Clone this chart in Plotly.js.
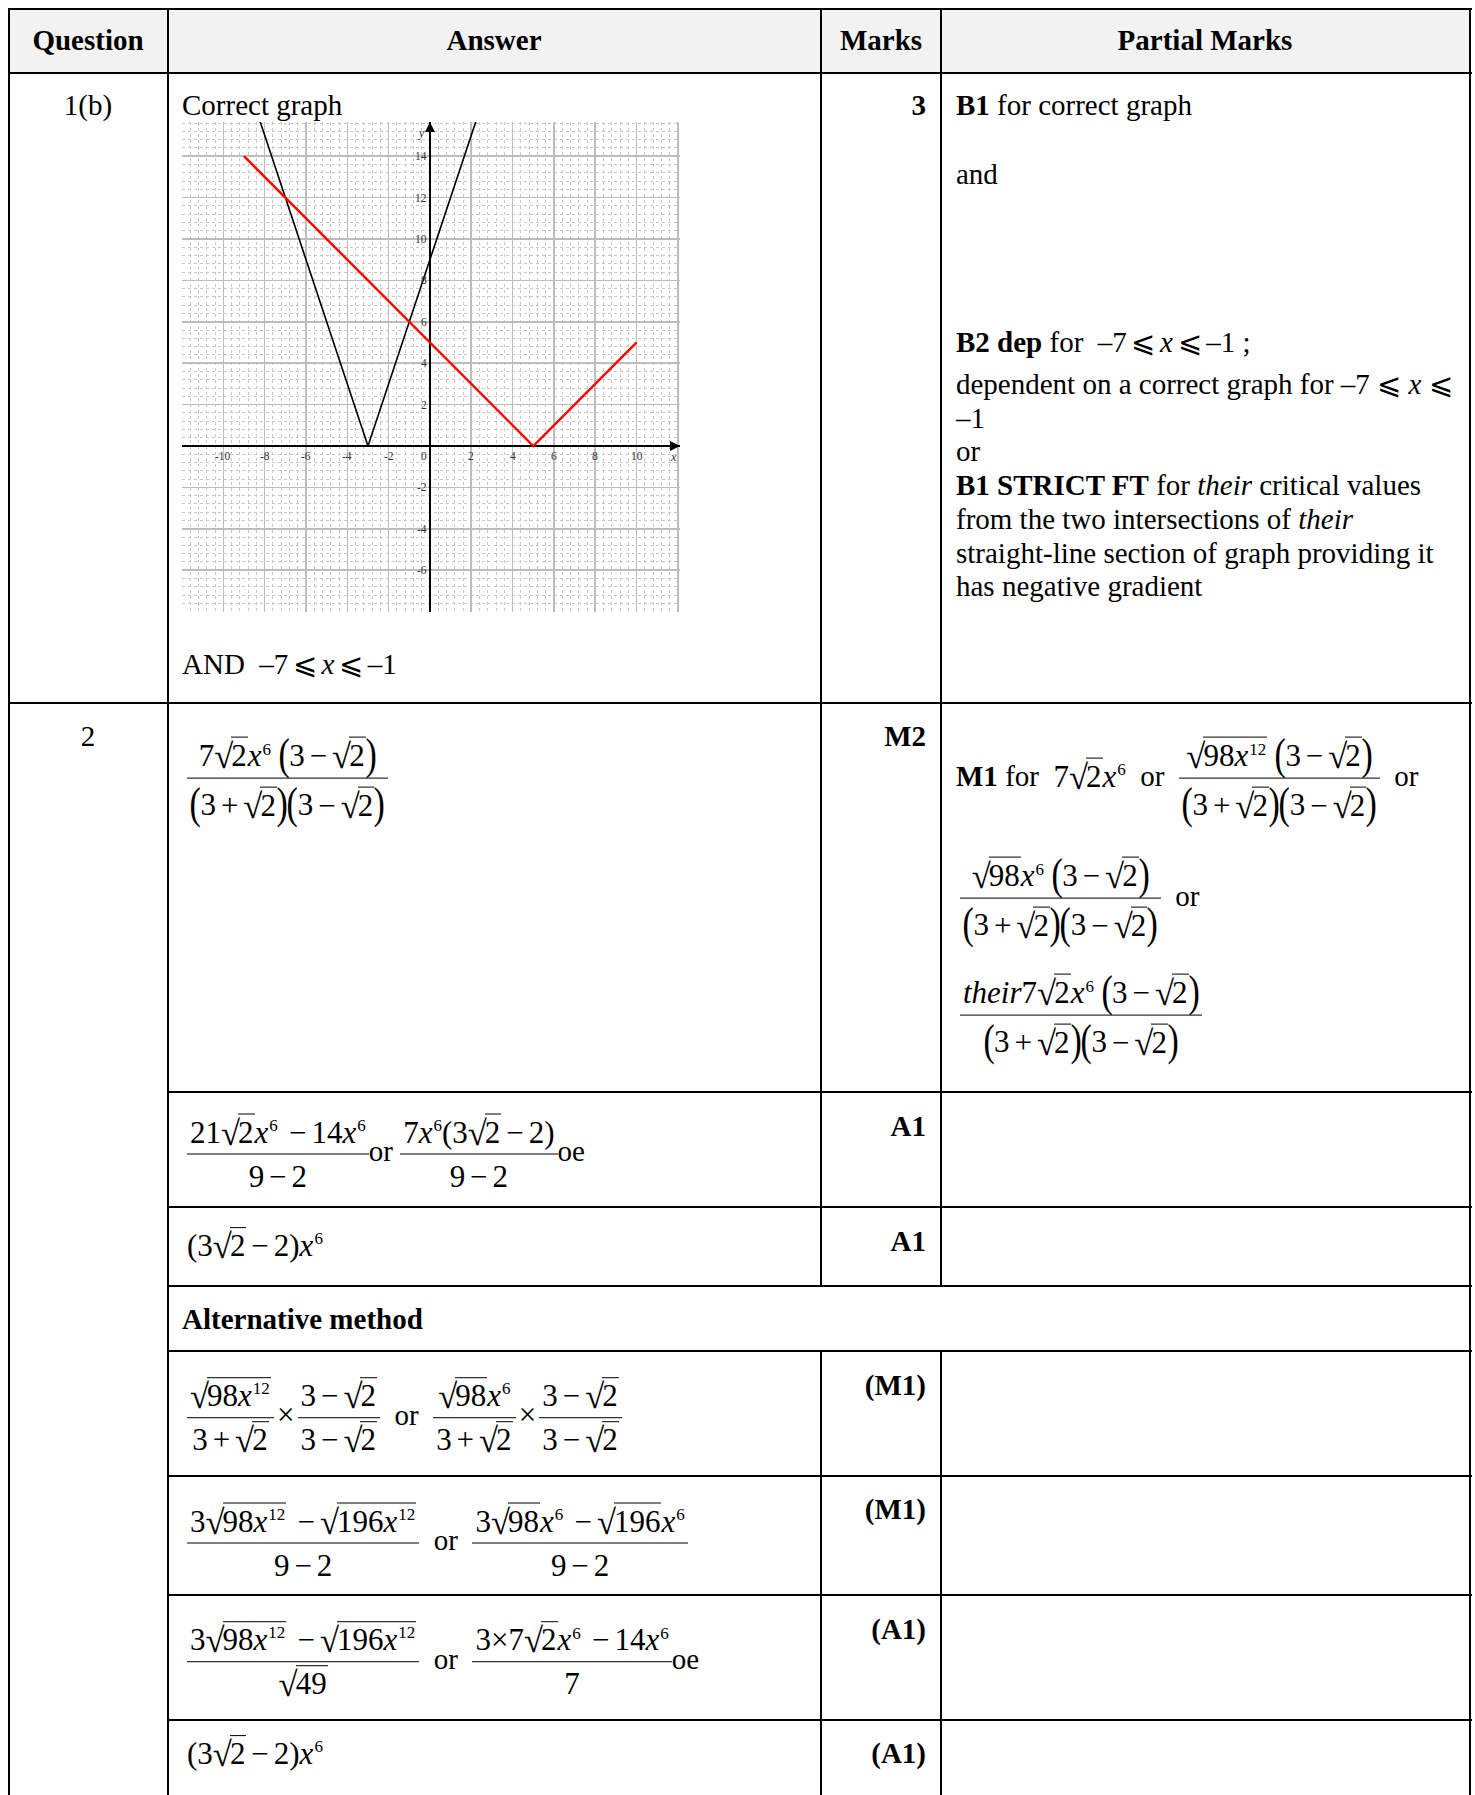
<!DOCTYPE html>
<html>
<head>
<meta charset="utf-8">
<script src="https://cdn.plot.ly/plotly-3.0.1.min.js"></script>
<style>
  html, body { margin: 0; padding: 0; background: #fff; }
  #page { position: relative; width: 1475px; height: 1795px; overflow: hidden;
          font-family: 'Liberation Serif', 'Times New Roman', serif; font-size: 29px; color: #000; }
  .ln { position: absolute; background: #000; }
  .hd { position: absolute; background: #f2f2f2; }
  .t { position: absolute; white-space: nowrap; line-height: 1.15; }
  .mid { transform: translateY(-50%); }
  .ctr { transform: translate(-50%, -50%); }
  .rgt { transform: translate(-100%, -50%); }
  b { font-weight: bold; }
  .mth { font-size: 31px; }
  sup { font-size: 0.55em; vertical-align: 0.68em; line-height: 0; margin-left: 1px; }
  .fr { display: inline-block; vertical-align: middle; text-align: center; line-height: 1.2; }
  .fr > .n { display: block; padding: 0 3px 2px; border-bottom: 1.6px solid #000; }
  .fr > .d { display: block; padding: 3px 3px 0; }
  .sq { white-space: nowrap; }
  .rad { display: inline-block; font-size: 1.12em; line-height: 1; vertical-align: -0.06em; margin-right: -2px; }
  .ov { display: inline-block; border-top: 1.5px solid #000; line-height: 1.0; padding-top: 2px; padding-right: 1px; }
  .bp { display: inline-block; font-size: 1.4em; line-height: 1; vertical-align: -0.06em; transform: scaleX(0.78); margin: 0 -2px; }
  .op { margin: 0 0.16em; }
  .gap { margin-left: 0.2em; }
  .tx { margin: 0 0.1em; }
  #graph { position: absolute; left: 172px; top: 112px; width: 518px; height: 510px; }
</style>
</head>
<body>
<div id="page">
  <div id="graph"></div>
</div>
<script>
// graph values
const absX = [-8.33, -3, 2.33];
const absY = [16, 0, 16];
const modX = [-9, 5, 10];
const modY = [14, 0, 5];
const xTickVals = [-10, -8, -6, -4, -2, 0, 2, 4, 6, 8, 10];
const xTickText = ['-10', '-8', '-6', '-4', '-2', '0', '2', '4', '6', '8', '10'];
const yTickVals = [14, 12, 10, 8, 6, 4, 2, -2, -4, -6];
const yTickText = ['14', '12', '10', '8', '6', '4', '2', '-2', '-4', '-6'];
const xRange = [-12.0, 12.1];
const yRange = [-8.02, 15.65];

const page = document.getElementById('page');

// table rules
const hLines = [
  [9, 8, 1463], [9, 72, 1463], [9, 702, 1463],
  [168, 1091, 1304], [168, 1206, 1304], [168, 1285, 1304], [168, 1350, 1304],
  [168, 1475, 1304], [168, 1594, 1304], [168, 1719, 1304]
];
const vLines = [
  [8, 8, 1787], [167, 8, 1787], [1469, 8, 1787],
  [820, 8, 1278], [820, 1350, 445], [940, 8, 1278], [940, 1350, 445]
];

function add(cls, style, html) {
  const d = document.createElement('div');
  d.className = cls;
  Object.assign(d.style, style);
  if (html) d.innerHTML = html;
  page.appendChild(d);
  return d;
}

add('hd', { left: '9px', top: '8px', width: '1462px', height: '65px' });
hLines.forEach(([l, t, w]) => add('ln', { left: l + 'px', top: t + 'px', width: w + 'px', height: '2px' }));
vLines.forEach(([l, t, h]) => add('ln', { left: l + 'px', top: t + 'px', width: '2px', height: h + 'px' }));

// math bits
const x = '<i>x</i>';
const sup = s => `<sup>${s}</sup>`;
const sq = s => `<span class="sq"><span class="rad">√</span><span class="ov">${s}</span></span>`;
const P = s => `<span class="bp">(</span>${s}<span class="bp">)</span>`;
const fr = (n, d) => `<span class="fr"><span class="n">${n}</span><span class="d">${d}</span></span>`;
const M = s => `<span class="mth">${s}</span>`;
const mi = '<span class="op">−</span>';
const pl = '<span class="op">+</span>';
const le = '<span class="op">⩽</span>';
const tm = '<span class="tx">×</span>';
const gmi = '<span class="gap"></span>' + mi;
const x6 = x + sup(6);
const x12 = x + sup(12);
const r2 = sq('2');
const den = P('3' + pl + r2) + P('3' + mi + r2);
const ineq = `–7${le}${x}${le}–1`;

function at(html, left, cy, mode) {
  const cls = 't ' + (mode || 'mid');
  return add(cls, { left: left + 'px', top: cy + 'px' }, html);
}

// header
at('<b>Question</b>', 88, 41, 'ctr');
at('<b>Answer</b>', 494, 41, 'ctr');
at('<b>Marks</b>', 881, 41, 'ctr');
at('<b>Partial Marks</b>', 1205, 41, 'ctr');

// question 1(b)
at('1(b)', 88, 106, 'ctr');
at('Correct graph', 182, 106);
at('<b>3</b>', 926, 106, 'rgt');
at('<b>B1</b> for correct graph', 956, 106);
at('and', 956, 175);
at(`<b>B2 dep</b> for &nbsp;${ineq} ;`, 956, 343);
add('t', { left: '956px', top: '368px', lineHeight: '33.7px' },
  'dependent on a correct graph for –7 ⩽ <i>x</i> ⩽<br>–1<br>or<br>' +
  '<b>B1 STRICT FT</b> for <i>their</i> critical values<br>' +
  'from the two intersections of <i>their</i><br>' +
  'straight-line section of graph providing it<br>has negative gradient');
at(`AND &nbsp;${ineq}`, 182, 665);

// question 2
at('2', 88, 737, 'ctr');
at('<b>M2</b>', 926, 737, 'rgt');
at(M(fr('7' + r2 + x6 + ' ' + P('3' + mi + r2), den)), 187, 779);
at(`<b>M1</b> for &nbsp;` + M(`7${r2}${x6}`) + ` &nbsp;or &nbsp;` +
   M(fr(sq('98' + x12) + ' ' + P('3' + mi + r2), den)) + ' &nbsp;or', 956, 779);
at(M(fr(sq('98') + x6 + ' ' + P('3' + mi + r2), den)) + ' &nbsp;or', 960, 899);
at(M(fr('<i>their</i>7' + r2 + x6 + ' ' + P('3' + mi + r2), den)), 960, 1016);

at('<b>A1</b>', 926, 1127, 'rgt');
at(M(fr('21' + r2 + x6 + gmi + '14' + x6, '9' + mi + '2')) + 'or ' +
   M(fr('7' + x6 + '(3' + r2 + mi + '2)', '9' + mi + '2')) + 'oe', 187, 1154);

at('<b>A1</b>', 926, 1242, 'rgt');
at(M('(3' + r2 + mi + '2)' + x6), 187, 1246);

at('<b>Alternative method</b>', 182, 1320);

at('<b>(M1)</b>', 926, 1386, 'rgt');
at(M(fr(sq('98' + x12), '3' + pl + r2) + tm + fr('3' + mi + r2, '3' + mi + r2)) + ' &nbsp;or &nbsp;' +
   M(fr(sq('98') + x6, '3' + pl + r2) + tm + fr('3' + mi + r2, '3' + mi + r2)), 187, 1418);

const n7 = '3' + sq('98' + x12) + gmi + sq('196' + x12);
at('<b>(M1)</b>', 926, 1510, 'rgt');
at(M(fr(n7, '9' + mi + '2')) + ' &nbsp;or &nbsp;' +
   M(fr('3' + sq('98') + x6 + gmi + sq('196') + x6, '9' + mi + '2')), 187, 1543);

at('<b>(A1)</b>', 926, 1630, 'rgt');
at(M(fr(n7, sq('49'))) + ' &nbsp;or &nbsp;' +
   M(fr('3×7' + r2 + x6 + gmi + '14' + x6, '7')) + 'oe', 187, 1662);

at('<b>(A1)</b>', 926, 1754, 'rgt');
at(M('(3' + r2 + mi + '2)' + x6), 187, 1754);

// the graph
const lblFont = { family: 'Liberation Serif, serif', size: 11.5, color: '#333' };
const annotations = [];
xTickVals.forEach((v, i) => annotations.push({
  x: v, y: 0, xref: 'x', yref: 'y', text: xTickText[i], showarrow: false,
  xanchor: 'center', yanchor: 'top', yshift: -2, xshift: v === 0 ? -6 : 0, font: lblFont
}));
yTickVals.forEach((v, i) => annotations.push({
  x: 0, y: v, xref: 'x', yref: 'y', text: yTickText[i], showarrow: false,
  xanchor: 'right', yanchor: 'middle', xshift: -1, font: lblFont
}));
annotations.push(
  { x: 0, y: yRange[1], xref: 'x', yref: 'y', ax: 0, ay: 14, text: '', showarrow: true,
    arrowhead: 2, arrowsize: 1, arrowwidth: 2, arrowcolor: '#000' },
  { x: xRange[1], y: 0, xref: 'x', yref: 'y', ax: -14, ay: 0, text: '', showarrow: true,
    arrowhead: 2, arrowsize: 1, arrowwidth: 2, arrowcolor: '#000' },
  { x: 0, y: 15.1, xref: 'x', yref: 'y', text: '<i>y</i>', showarrow: false,
    xanchor: 'right', xshift: -3, font: { family: 'Liberation Serif, serif', size: 12, color: '#333' } },
  { x: 11.8, y: 0, xref: 'x', yref: 'y', text: '<i>x</i>', showarrow: false,
    yanchor: 'top', yshift: -2, font: { family: 'Liberation Serif, serif', size: 12, color: '#333' } }
);

const traces = [
  { x: absX, y: absY, mode: 'lines', line: { color: '#000', width: 1.6 }, hoverinfo: 'skip' },
  { x: modX, y: modY, mode: 'lines', line: { color: '#ff0000', width: 2.4 }, hoverinfo: 'skip' }
];

const axisBase = {
  dtick: 2, tick0: 0, showgrid: true, gridcolor: '#bdbdbd', gridwidth: 1.6,
  minor: { dtick: 0.4, tick0: 0, showgrid: true, gridcolor: '#c8c8c8', griddash: 'dot', gridwidth: 1 },
  showticklabels: false, ticks: '', zeroline: true, zerolinecolor: '#000', zerolinewidth: 2,
  showline: false, fixedrange: true
};

const layout = {
  xaxis: Object.assign({}, axisBase, { range: xRange }),
  yaxis: Object.assign({}, axisBase, { range: yRange }),
  showlegend: false,
  annotations: annotations,
  margin: { l: 10, r: 10, t: 10, b: 10 },
  width: 518, height: 510,
  plot_bgcolor: '#ffffff', paper_bgcolor: 'rgba(0,0,0,0)'
};

Plotly.newPlot('graph', traces, layout, { staticPlot: true, displayModeBar: false });
</script>
</body>
</html>
